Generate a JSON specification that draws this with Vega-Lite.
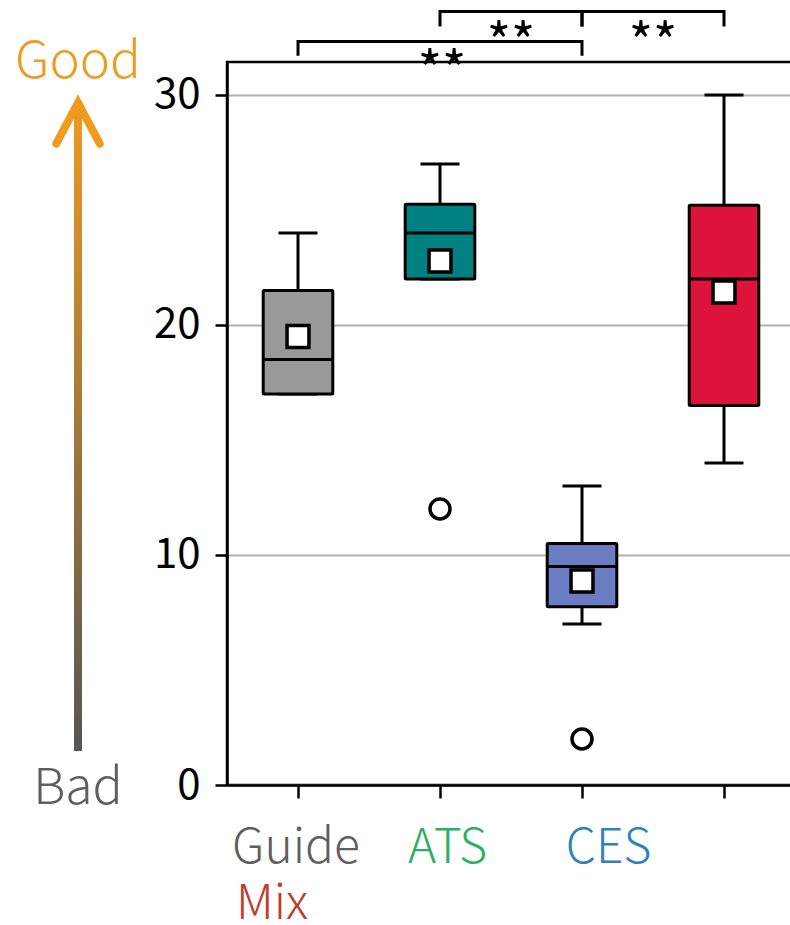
{
  "$schema": "https://vega.github.io/schema/vega-lite/v6.json",
  "padding": {"left": 0, "top": 4, "right": 0, "bottom": 0},
  "background": "white",
  "bounds": "flush",
  "spacing": 71,
  "config": {
    "font": "Noto Sans CJK JP",
    "view": {"stroke": "black", "strokeWidth": 2.5}
  },
  "datasets": {
    "boxes": [
      {"cat": "Guide", "lower": 17, "q1": 17, "median": 18.5, "q3": 21.5, "upper": 24, "mean": 19.5},
      {"cat": "ATS", "lower": 22, "q1": 22, "median": 24, "q3": 25.25, "upper": 27, "mean": 22.78},
      {"cat": "CES", "lower": 7, "q1": 7.75, "median": 9.5, "q3": 10.5, "upper": 13, "mean": 8.87},
      {"cat": "Mix", "lower": 14, "q1": 16.5, "median": 22, "q3": 25.2, "upper": 30, "mean": 21.43}
    ],
    "outliers": [
      {"cat": "ATS", "value": 12},
      {"cat": "CES", "value": 2}
    ],
    "brackets": [
      {"id": 1, "ord": 0, "cat": "Guide", "level": 31.7},
      {"id": 1, "ord": 1, "cat": "Guide", "level": 32.32},
      {"id": 1, "ord": 2, "cat": "CES", "level": 32.32},
      {"id": 1, "ord": 3, "cat": "CES", "level": 31.7},
      {"id": 2, "ord": 0, "cat": "ATS", "level": 32.97},
      {"id": 2, "ord": 1, "cat": "ATS", "level": 33.62},
      {"id": 2, "ord": 2, "cat": "CES", "level": 33.62},
      {"id": 2, "ord": 3, "cat": "CES", "level": 32.97},
      {"id": 3, "ord": 0, "cat": "CES", "level": 32.97},
      {"id": 3, "ord": 1, "cat": "CES", "level": 33.62},
      {"id": 3, "ord": 2, "cat": "Mix", "level": 33.62},
      {"id": 3, "ord": 3, "cat": "Mix", "level": 32.97}
    ],
    "arrow": [
      {"pos": "arrow", "bottom": 1.48, "top": 29.66}
    ]
  },
  "hconcat": [
    {
      "width": 156,
      "height": 723,
      "view": {"stroke": null},
      "data": {"name": "arrow"},
      "encoding": {
        "x": {"field": "pos", "type": "nominal", "axis": null, "scale": {"type": "band", "paddingInner": 0, "paddingOuter": 0}}
      },
      "layer": [
        {
          "mark": {
            "type": "bar",
            "width": 8,
            "color": {
              "gradient": "linear",
              "x1": 0, "y1": 1, "x2": 0, "y2": 0,
              "stops": [
                {"offset": 0, "color": "#555555"},
                {"offset": 1, "color": "#F09A1E"}
              ]
            }
          },
          "encoding": {
            "y": {"field": "bottom", "type": "quantitative", "scale": {"domain": [0, 31.43], "nice": false, "zero": false}, "axis": null},
            "y2": {"field": "top"}
          }
        },
        {
          "mark": {"type": "point", "shape": "M-0.53,1L0,0L0.53,1", "size": 6724, "filled": false, "color": "#F09A1E", "strokeWidth": 8, "strokeCap": "round", "strokeJoin": "miter", "opacity": 1},
          "encoding": {"y": {"field": "top", "type": "quantitative"}}
        },
        {
          "mark": {"type": "text", "text": "Good", "fontSize": 51, "fontWeight": 300, "color": "#F09A1E", "baseline": "alphabetic", "align": "center"},
          "encoding": {"y": {"datum": 30.75, "type": "quantitative"}}
        },
        {
          "mark": {"type": "text", "text": "Bad", "fontSize": 50, "fontWeight": 300, "color": "#5E5E5E", "baseline": "alphabetic", "align": "center"},
          "encoding": {"y": {"datum": -0.83, "type": "quantitative"}}
        }
      ]
    },
    {
      "width": 568,
      "height": 723,
      "layer": [
        {
          "data": {"name": "boxes"},
          "mark": {"type": "rule", "color": "black", "strokeWidth": 3},
          "encoding": {
            "x": {
              "field": "cat", "type": "nominal",
              "scale": {"type": "band", "domain": ["Guide", "ATS", "CES", "Mix"], "paddingInner": 0, "paddingOuter": 0},
              "axis": {"title": null, "labels": false, "tickSize": 13, "tickWidth": 2.5, "tickColor": "black", "domainColor": "black", "domainWidth": 2.5, "grid": false}
            },
            "y": {
              "field": "lower", "type": "quantitative",
              "scale": {"domain": [0, 31.43], "nice": false, "zero": false},
              "axis": {"title": null, "values": [0, 10, 20, 30], "labelFontSize": 42, "labelFontWeight": 400, "labelColor": "black", "tickSize": 12, "tickWidth": 2.5, "tickColor": "black", "domainColor": "black", "domainWidth": 2.5, "grid": true, "gridColor": "#b0b0b0", "gridWidth": 2, "labelPadding": 15}
            },
            "y2": {"field": "upper"}
          }
        },
        {
          "data": {"name": "boxes"},
          "mark": {"type": "tick", "color": "black", "size": 39, "thickness": 3, "opacity": 1},
          "encoding": {
            "x": {"field": "cat", "type": "nominal"},
            "y": {"field": "lower", "type": "quantitative"}
          }
        },
        {
          "data": {"name": "boxes"},
          "mark": {"type": "tick", "color": "black", "size": 39, "thickness": 3, "opacity": 1},
          "encoding": {
            "x": {"field": "cat", "type": "nominal"},
            "y": {"field": "upper", "type": "quantitative"}
          }
        },
        {
          "data": {"name": "boxes"},
          "mark": {"type": "bar", "stroke": "black", "strokeWidth": 3, "width": {"band": 0.49}, "cornerRadius": 1, "opacity": 1},
          "encoding": {
            "x": {"field": "cat", "type": "nominal"},
            "y": {"field": "q1", "type": "quantitative"},
            "y2": {"field": "q3"},
            "fill": {"field": "cat", "type": "nominal", "scale": {"domain": ["Guide", "ATS", "CES", "Mix"], "range": ["#999999", "#008080", "#6A7CC2", "#DC143C"]}, "legend": null}
          }
        },
        {
          "data": {"name": "boxes"},
          "mark": {"type": "tick", "color": "black", "size": 70, "thickness": 3, "opacity": 1},
          "encoding": {
            "x": {"field": "cat", "type": "nominal"},
            "y": {"field": "median", "type": "quantitative"}
          }
        },
        {
          "data": {"name": "boxes"},
          "mark": {"type": "point", "shape": "square", "size": 480, "filled": true, "fill": "white", "stroke": "black", "strokeWidth": 3.5, "opacity": 1},
          "encoding": {
            "x": {"field": "cat", "type": "nominal"},
            "y": {"field": "mean", "type": "quantitative"}
          }
        },
        {
          "data": {"name": "outliers"},
          "mark": {"type": "point", "shape": "circle", "size": 400, "filled": true, "fill": "white", "stroke": "black", "strokeWidth": 3.5, "opacity": 1},
          "encoding": {
            "x": {"field": "cat", "type": "nominal"},
            "y": {"field": "value", "type": "quantitative"}
          }
        },
        {
          "data": {"name": "brackets"},
          "mark": {"type": "line", "color": "black", "strokeWidth": 3, "strokeJoin": "miter", "clip": false},
          "encoding": {
            "x": {"field": "cat", "type": "nominal"},
            "y": {"field": "level", "type": "quantitative"},
            "detail": {"field": "id", "type": "nominal"},
            "order": {"field": "ord", "type": "quantitative"}
          }
        },
        {
          "data": {"values": [{"cat": "ATS"}]},
          "mark": {"type": "text", "text": "**", "fontSize": 52, "fontWeight": 400, "color": "black", "baseline": "alphabetic", "align": "center", "dx": 2},
          "encoding": {
            "x": {"field": "cat", "type": "nominal"},
            "y": {"datum": 30.26, "type": "quantitative"}
          }
        },
        {
          "data": {"values": [{"cat": "ATS"}, {"cat": "CES"}]},
          "mark": {"type": "text", "text": "**", "fontSize": 52, "fontWeight": 400, "color": "black", "baseline": "alphabetic", "align": "center"},
          "encoding": {
            "x": {"field": "cat", "type": "nominal", "bandPosition": 1},
            "y": {"datum": 31.46, "type": "quantitative"}
          }
        },
        {
          "data": {"values": [{"cat": "Guide", "label": "Guide"}]},
          "mark": {"type": "text", "fontSize": 48, "fontWeight": 300, "color": "#5E5E5E", "baseline": "alphabetic", "align": "center", "dx": -2},
          "encoding": {
            "x": {"field": "cat", "type": "nominal"},
            "y": {"datum": -3.39, "type": "quantitative"},
            "text": {"field": "label"}
          }
        },
        {
          "data": {"values": [{"cat": "ATS", "label": "ATS"}]},
          "mark": {"type": "text", "fontSize": 48, "fontWeight": 300, "color": "#2DAF62", "baseline": "alphabetic", "align": "center", "dx": 7.5},
          "encoding": {
            "x": {"field": "cat", "type": "nominal"},
            "y": {"datum": -3.39, "type": "quantitative"},
            "text": {"field": "label"}
          }
        },
        {
          "data": {"values": [{"cat": "CES", "label": "CES"}]},
          "mark": {"type": "text", "fontSize": 48, "fontWeight": 300, "color": "#2F80BE", "baseline": "alphabetic", "align": "center", "dx": 26.5},
          "encoding": {
            "x": {"field": "cat", "type": "nominal"},
            "y": {"datum": -3.39, "type": "quantitative"},
            "text": {"field": "label"}
          }
        },
        {
          "data": {"values": [{"cat": "Guide", "label": "Mix"}]},
          "mark": {"type": "text", "fontSize": 48, "fontWeight": 300, "color": "#C23B2C", "baseline": "alphabetic", "align": "center", "dx": -26},
          "encoding": {
            "x": {"field": "cat", "type": "nominal"},
            "y": {"datum": -5.83, "type": "quantitative"},
            "text": {"field": "label"}
          }
        }
      ]
    }
  ]
}
